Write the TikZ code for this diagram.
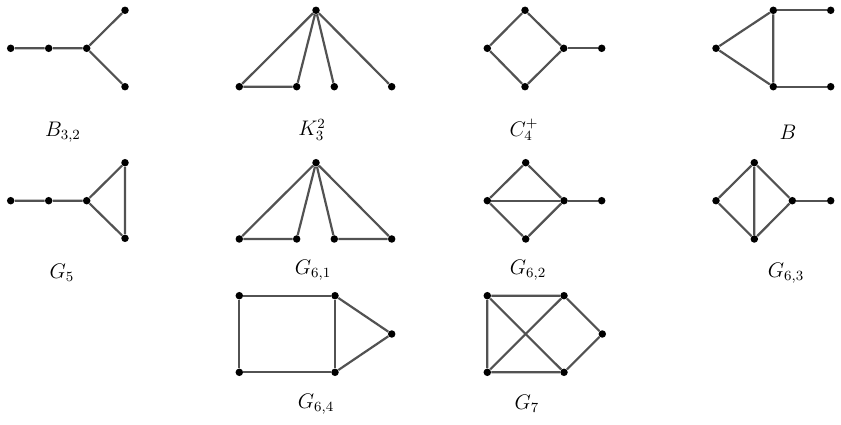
\documentclass[tikz,border=0pt]{standalone}
\usepackage{tikz}

\tikzset{
  vtx/.style={circle, fill=black, inner sep=0pt, minimum size=0.15cm},
  edge/.style={draw=black!68, line width=1.25pt},
  lbl/.style={font=\large, inner sep=1pt},
}

\begin{document}
\begin{tikzpicture}[x={(0.02cm,0)}, y={(0,-0.02cm)}]
	\useasboundingbox (0,0) rectangle (841,425);

	% B_{3,2}
	\node[vtx] (b1) at (10.7,48.3) {};
	\node[vtx] (b2) at (48.7,48.3) {};
	\node[vtx] (b3) at (86.7,48.3) {};
	\node[vtx] (b4) at (125,10.3) {};
	\node[vtx] (b5) at (125,86.7) {};
	\draw[edge] (b1) -- (b2) -- (b3) -- (b4);
	\draw[edge] (b3) -- (b5);
	\node[lbl] (lb) at (63,132) {$B_{3,2}$};

	% K_3^2
	\node[vtx] (k0) at (316,10.3) {};
	\node[vtx] (k1) at (239.3,86.7) {};
	\node[vtx] (k2) at (296.7,86.7) {};
	\node[vtx] (k3) at (334.3,86.7) {};
	\node[vtx] (k4) at (391.7,86.7) {};
	\draw[edge] (k0) -- (k1) -- (k2) -- (k0);
	\draw[edge] (k0) -- (k3);
	\draw[edge] (k0) -- (k4);
	\node[lbl] (lk) at (312,130) {$K_3^2$};

	% C_4^+
	\node[vtx] (c1) at (525,10.3) {};
	\node[vtx] (c2) at (487.3,48.3) {};
	\node[vtx] (c3) at (563.7,48.3) {};
	\node[vtx] (c4) at (525,86.7) {};
	\node[vtx] (c5) at (601.7,48.3) {};
	\draw[edge] (c1) -- (c2) -- (c4) -- (c3) -- (c1);
	\draw[edge] (c3) -- (c5);
	\node[lbl] (lc) at (524,130) {$C_4^+$};

	% B
	\node[vtx] (h1) at (716,48.3) {};
	\node[vtx] (h2) at (773.3,10.3) {};
	\node[vtx] (h3) at (773.3,86.7) {};
	\node[vtx] (h4) at (830.7,10.3) {};
	\node[vtx] (h5) at (830.7,86.7) {};
	\draw[edge] (h1) -- (h2) -- (h3) -- (h1);
	\draw[edge] (h2) -- (h4);
	\draw[edge] (h3) -- (h5);
	\node[lbl] (lh) at (788,132) {$B$};

	% G_5
	\node[vtx] (g1) at (10.7,200.7) {};
	\node[vtx] (g2) at (48.7,200.7) {};
	\node[vtx] (g3) at (86.7,200.7) {};
	\node[vtx] (g4) at (125,162.7) {};
	\node[vtx] (g5) at (125,238.3) {};
	\draw[edge] (g1) -- (g2) -- (g3) -- (g4) -- (g5) -- (g3);
	\node[lbl] (lg) at (62,273) {$G_5$};

	% G_{6,1}
	\node[vtx] (p0) at (316,162.7) {};
	\node[vtx] (p1) at (239.3,239) {};
	\node[vtx] (p2) at (296.7,239) {};
	\node[vtx] (p3) at (334.3,239) {};
	\node[vtx] (p4) at (391.7,239) {};
	\draw[edge] (p0) -- (p1) -- (p2) -- (p0);
	\draw[edge] (p0) -- (p3) -- (p4) -- (p0);
	\node[lbl] (lp) at (313,270) {$G_{6,1}$};

	% G_{6,2}
	\node[vtx] (q1) at (525.7,162.7) {};
	\node[vtx] (q2) at (487.3,200.7) {};
	\node[vtx] (q3) at (564,200.7) {};
	\node[vtx] (q4) at (525.7,239) {};
	\node[vtx] (q5) at (601.7,200.7) {};
	\draw[edge] (q1) -- (q2) -- (q4) -- (q3) -- (q1);
	\draw[edge] (q2) -- (q3) -- (q5);
	\node[lbl] (lq) at (528,270) {$G_{6,2}$};

	% G_{6,3}
	\node[vtx] (r1) at (754.3,162.7) {};
	\node[vtx] (r2) at (716,200.7) {};
	\node[vtx] (r3) at (792.3,200.7) {};
	\node[vtx] (r4) at (754.3,239) {};
	\node[vtx] (r5) at (830.7,200.7) {};
	\draw[edge] (r1) -- (r2) -- (r4) -- (r3) -- (r1) -- (r4);
	\draw[edge] (r3) -- (r5);
	\node[lbl] (lr) at (786,273) {$G_{6,3}$};

	% G_{6,4}
	\node[vtx] (s1) at (239.3,295.7) {};
	\node[vtx] (s2) at (335,295.7) {};
	\node[vtx] (s3) at (239.3,372.3) {};
	\node[vtx] (s4) at (335,372.3) {};
	\node[vtx] (s5) at (391.7,334) {};
	\draw[edge] (s1) -- (s2) -- (s4) -- (s3) -- (s1);
	\draw[edge] (s2) -- (s5) -- (s4);
	\node[lbl] (ls) at (316,404) {$G_{6,4}$};

	% G_7
	\node[vtx] (t1) at (487.3,295.7) {};
	\node[vtx] (t2) at (564,295.7) {};
	\node[vtx] (t3) at (487.3,372.3) {};
	\node[vtx] (t4) at (564,372.3) {};
	\node[vtx] (t5) at (602.3,334) {};
	\draw[edge] (t2) -- (t1) -- (t3) -- (t4) -- (t1);
	\draw[edge] (t2) -- (t3);
	\draw[edge] (t2) -- (t5) -- (t4);
	\node[lbl] (lt) at (527,404) {$G_7$};
\end{tikzpicture}
\end{document}
